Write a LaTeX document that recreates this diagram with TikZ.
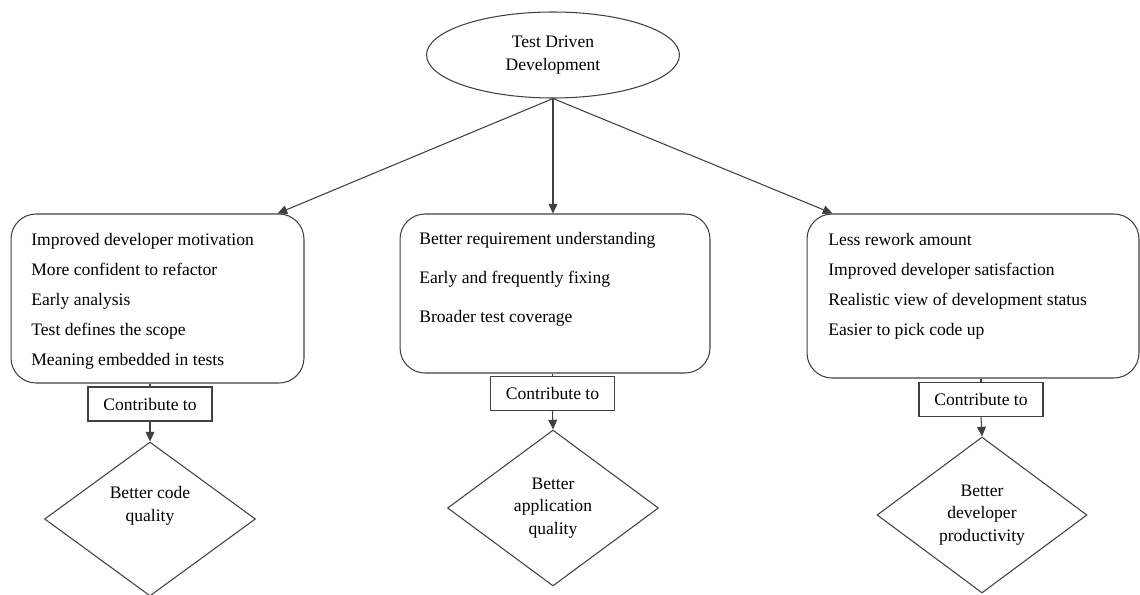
\documentclass[tikz,border=0pt]{standalone}
\usepackage{fontspec}
\setmainfont{Liberation Serif}
\usetikzlibrary{positioning,calc,arrows.meta,shapes.geometric}

\begin{document}
\begin{tikzpicture}[x=0.02cm, y=-0.02cm,
    every node/.style={font=\fontsize{10}{13}\selectfont, align=center, text=black},
    ligne/.style={draw=black!75, line width=0.6pt},
    fleche/.style={ligne, -{Triangle[width=5pt,length=5.5pt]}},
    bloc/.style={ligne, rectangle, rounded corners=0.5cm},
    liste/.style={align=left, anchor=north west, inner sep=0pt, font=\fontsize{10}{17}\selectfont},
    contrib/.style={ligne, rectangle, minimum width=2.48cm, minimum height=0.68cm, inner sep=0pt},
    but/.style={ligne, diamond, inner sep=0pt}]
        \useasboundingbox (0,0) rectangle (1140,595);

        % Noeud racine
        \node[ligne, ellipse, minimum width=5.06cm, minimum height=1.72cm] (tdd) at (553,55) {Test Driven\\Development};

        % Les trois blocs de benefices
        \node[bloc, minimum width=5.86cm, minimum height=3.38cm] (lbox) at (157.5,298.5) {};
        \node[bloc, minimum width=6.2cm, minimum height=3.18cm] (mbox) at (555,293.5) {};
        \node[bloc, minimum width=6.64cm, minimum height=3.28cm] (rbox) at (973,296) {};

        \node[liste] (ltext) at (31,233) {Improved developer motivation\\More confident to refactor\\Early analysis\\Test defines the scope\\Meaning embedded in tests};
        \node[liste, font=\fontsize{10}{22.3}\selectfont] (mtext) at (419,232) {Better requirement understanding\\Early and frequently fixing\\Broader test coverage};
        \node[liste] (rtext) at (828,233) {Less rework amount\\Improved developer satisfaction\\Realistic view of development status\\Easier to pick code up};

        % Boites "Contribute to"
        \node[contrib] (lcon) at (150,404) {Contribute to};
        \node[contrib] (mcon) at (552.5,393.5) {Contribute to};
        \node[contrib] (rcon) at (981,399.5) {Contribute to};

        % Losanges des resultats
        \node[but, minimum width=4.22cm, minimum height=3.08cm] (lgoal) at (150,519) {Better code\\quality\\[4pt]~};
        \node[but, minimum width=4.22cm, minimum height=3.12cm] (mgoal) at (553,508) {Better\\application\\quality};
        \node[but, minimum width=4.2cm, minimum height=3.12cm] (rgoal) at (982,515) {Better\\developer\\productivity};

        % Fleches
        \draw[fleche] (tdd.south) -- ([xshift=-0.54cm]lbox.north east);
        \draw[fleche] (tdd.south) -- (tdd.south |- mbox.north);
        \draw[fleche] (tdd.south) -- ([xshift=0.52cm]rbox.north west);

        \draw[ligne] (lcon.north |- lbox.south) -- (lcon.north);
        \draw[ligne] (mcon.north |- mbox.south) -- (mcon.north);
        \draw[ligne] (rcon.north |- rbox.south) -- (rcon.north);

        \draw[fleche] (lcon.south) -- (lgoal.north);
        \draw[fleche] (mcon.south) -- (mgoal.north);
        \draw[fleche] (rcon.south) -- (rgoal.north);
    \end{tikzpicture}
\end{document}
